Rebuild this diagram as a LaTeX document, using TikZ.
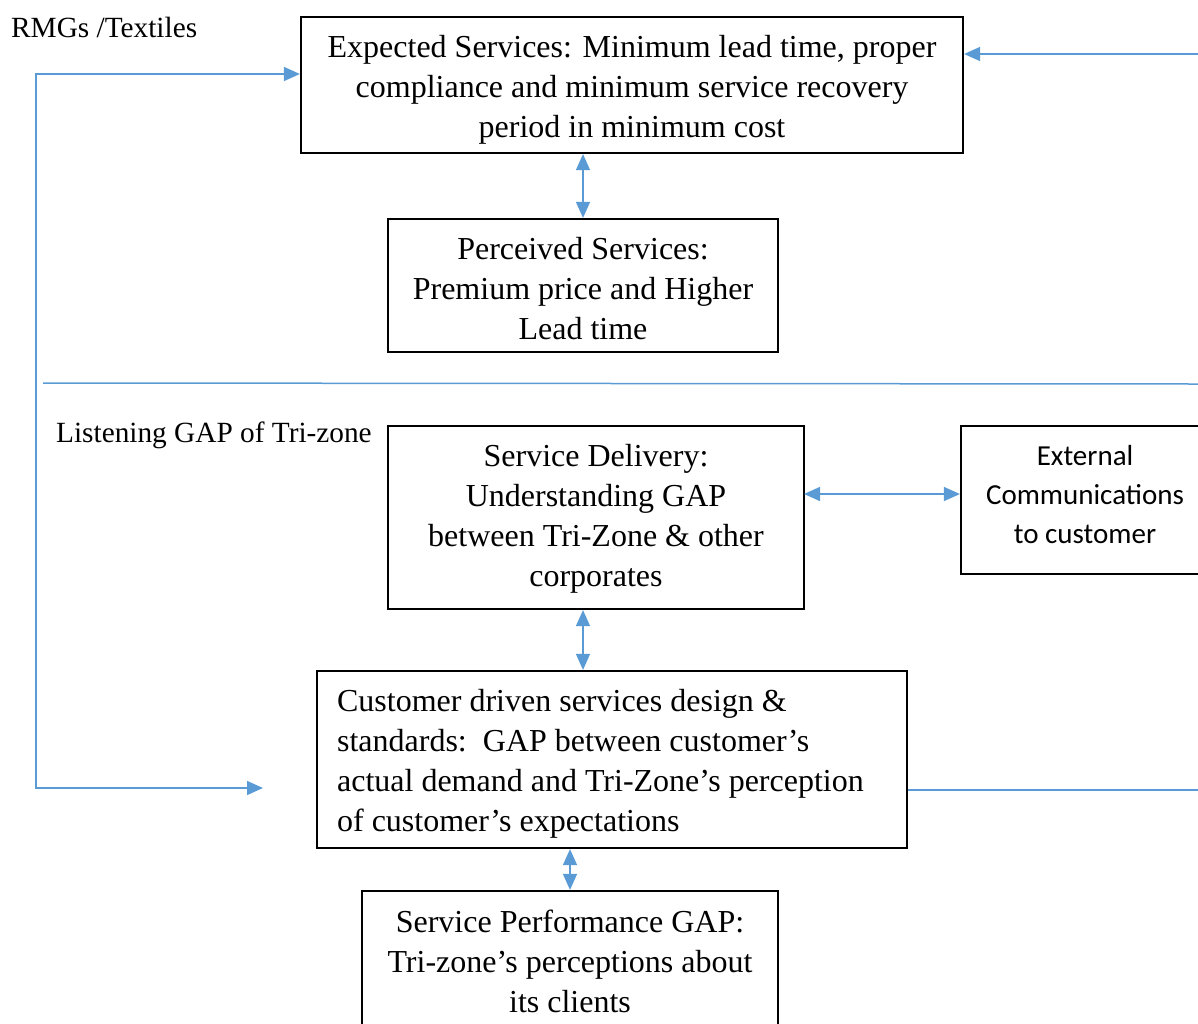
\documentclass[tikz,border=0pt]{standalone}
\usepackage{fontspec}
\setmainfont{Liberation Serif}
\newfontfamily\calibrifont{Carlito}
\usetikzlibrary{arrows.meta}
\definecolor{lnblue}{HTML}{5B9BD5}
\begin{document}
\begin{tikzpicture}[x=1pt,y=-1pt,
  >={Triangle[length=16pt,width=14pt]},
  box/.style={draw=black,line width=2.2pt,inner sep=0pt},
  txt/.style={inner sep=0pt,align=center,font=\fontsize{32}{40}\selectfont},
  lbl/.style={inner sep=0pt,font=\fontsize{29.3}{36}\selectfont,anchor=base west},
  conn/.style={draw=lnblue,line width=1.5pt}]
\useasboundingbox (0,0) rectangle (1198,1023);
\clip (0,0) rectangle (1198,1023);

\node[box,minimum width=662pt,minimum height=136pt] (exp) at (632,85) {};
\node[txt] (expt) at ([yshift=-5pt]exp.center)
  {Expected Services: Minimum lead time, proper\\compliance and minimum service recovery\\period in minimum cost};

\node[box,minimum width=390pt,minimum height=133pt] (perc) at (583,285.5) {};
\node[txt] (perct) at ([yshift=-3.5pt]perc.center)
  {Perceived Services:\\Premium price and Higher\\Lead time};

\node[box,minimum width=416pt,minimum height=183pt] (deliv) at (596,517.5) {};
\node[txt] (delivt) at ([yshift=-1pt]deliv.center)
  {Service Delivery:\\Understanding GAP\\between Tri-Zone \& other\\corporates};

\node[box,minimum width=248pt,minimum height=148pt] (ext) at (1085,500) {};
\node[txt,font=\calibrifont\fontsize{29}{39}\selectfont] (extt) at ([yshift=5pt]ext.center)
  {External\\Communications\\to customer};

\node[box,minimum width=590pt,minimum height=177pt] (cust) at (612,759.5) {};
\node[txt,align=left,anchor=west] (custt) at ([xshift=21pt,yshift=-4.5pt]cust.west)
  {Customer driven services design \&\\standards:\ \ GAP between customer’s\\actual demand and Tri-Zone’s perception\\of customer’s expectations};

\node[box,minimum width=416pt,minimum height=138pt] (perf) at (570,960) {};
\node[txt] (perft) at ([yshift=-1pt]perf.center)
  {Service Performance GAP:\\Tri-zone’s perceptions about\\its clients};

\node[lbl] (rmg) at (11,37.5) {RMGs /Textiles};
\node[lbl] (listen) at (56,442) {Listening GAP of Tri-zone};

\coordinate (tr) at (1198,54);
\draw[conn,->] (tr) -- (tr -| exp.east);

\coordinate (lt) at (36,74);
\coordinate (lb) at (36,788);
\coordinate (lend) at (263,788);
\draw[conn,<->] (lt -| exp.west) -- (lt) -- (lb) -- (lend);

\coordinate (s1) at (43,383);
\coordinate (s2) at (1198,384);
\draw[conn] (s1) -- (s2);

\draw[conn,<->] (perc.north |- exp.south) -- (perc.north);

\coordinate (de) at (804,494);
\draw[conn,<->] (de) -- (de -| ext.west);

\draw[conn,<->] (deliv.south -| perc.north) -- (cust.north -| perc.north);
\draw[conn,<->] (cust.south -| perf.north) -- (perf.north);

\coordinate (cr) at (1198,790);
\draw[conn] (cust.east |- cr) -- (cr);
\end{tikzpicture}
\end{document}
